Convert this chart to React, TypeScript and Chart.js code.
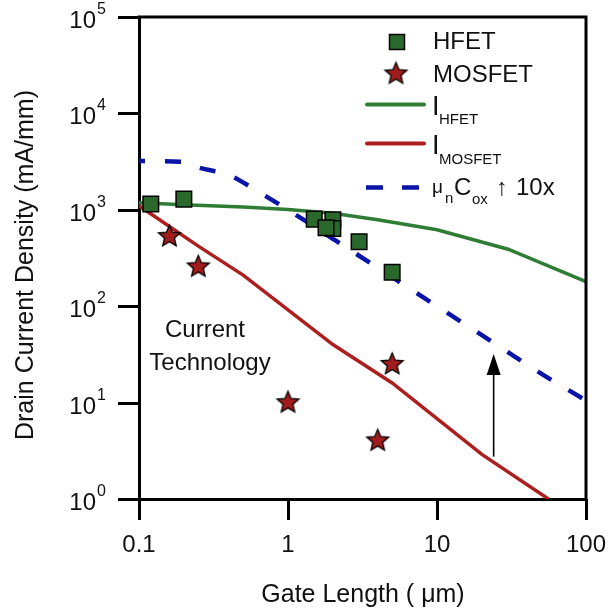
import { useEffect, useRef } from "react";
import { Chart, registerables } from "chart.js";

Chart.register(...registerables);

// Axis ticks
const xTicks = [0.1, 1, 10, 100];
const xTickLabels = ["0.1", "1", "10", "100"];
const yTicks = [1, 10, 100, 1000, 10000, 100000];
const yTickExponents = ["0", "1", "2", "3", "4", "5"];

// Measured devices: gate length (µm) vs drain current density (mA/mm)
const hfetLength = [0.12, 0.2, 1.5, 2.0, 2.0, 1.8, 3.0, 5.0];
const hfetCurrent = [1150, 1290, 800, 790, 640, 650, 467, 225];
const mosfetLength = [0.16, 0.25, 1.0, 5.0, 4.0];
const mosfetCurrent = [540, 262, 10.2, 25.5, 4.1];

// Model curves
const hfetModelLength = [0.1, 0.2, 0.5, 1, 2, 4, 10, 30, 100];
const hfetModelCurrent = [1180, 1130, 1070, 1010, 920, 790, 620, 390, 180];
const mosfetModelLength = [0.1, 0.25, 0.5, 2, 5, 20, 56];
const mosfetModelCurrent = [1100, 420, 210, 40, 16, 2.9, 1];
const scaledLength = [0.1, 0.2, 0.25, 0.4, 0.65, 1, 2, 5, 10, 20, 50, 100];
const scaledCurrent = [3200, 3150, 2750, 2300, 1500, 1000, 500, 200, 100, 50, 20, 10.5];

// Improvement arrow (from the MOSFET curve towards the scaled curve)
const arrowLength = [24, 24];
const arrowCurrent = [2.75, 32];

const FONT = '"Liberation Sans", Arial, Helvetica, sans-serif';
const GREEN_LINE = "#2f7d34";
const GREEN_FILL = "#2a682c";
const RED_LINE = "#ad1f1f";
const RED_FILL = "#a11c1c";
const BLUE = "#0a14a8";
const TICK_LEN = 21;

const pts = (xs: number[], ys: number[]) => xs.map((x, i) => ({ x, y: ys[i] }));

function makeStar(radius: number): HTMLCanvasElement {
  const size = Math.ceil(radius * 2 + 4);
  const c = document.createElement("canvas");
  c.width = size;
  c.height = size;
  const g = c.getContext("2d")!;
  const cx = size / 2;
  const cy = size / 2 + radius * 0.08;
  const inner = radius * 0.45;
  g.beginPath();
  for (let i = 0; i < 10; i++) {
    const r = i % 2 === 0 ? radius : inner;
    const ang = -Math.PI / 2 + (i * Math.PI) / 5;
    const px = cx + r * Math.cos(ang);
    const py = cy + r * Math.sin(ang);
    if (i === 0) g.moveTo(px, py);
    else g.lineTo(px, py);
  }
  g.closePath();
  g.fillStyle = RED_FILL;
  g.fill();
  g.lineWidth = 1.3;
  g.strokeStyle = "#000";
  g.lineJoin = "miter";
  g.stroke();
  return c;
}

function text(
  ctx: CanvasRenderingContext2D,
  s: string,
  x: number,
  y: number,
  size: number,
  align: CanvasTextAlign = "left"
) {
  ctx.font = `${size}px ${FONT}`;
  ctx.textAlign = align;
  ctx.textBaseline = "alphabetic";
  ctx.fillText(s, x, y);
}

export default function App() {
  const canvasRef = useRef<HTMLCanvasElement | null>(null);

  useEffect(() => {
    const canvas = canvasRef.current;
    if (!canvas) return;
    const star = makeStar(11.5);

    const decorations = {
      id: "decorations",
      afterDatasetsDraw(chart: any) {
        const { ctx, chartArea: a, scales } = chart;
        const xs = scales.x;
        const ys = scales.y;
        ctx.save();
        // improvement arrow
        const ax = xs.getPixelForValue(arrowLength[0]);
        const yb = ys.getPixelForValue(arrowCurrent[0]);
        const yt = ys.getPixelForValue(arrowCurrent[1]);
        ctx.strokeStyle = "#000";
        ctx.fillStyle = "#000";
        ctx.lineWidth = 1.6;
        ctx.beginPath();
        ctx.moveTo(ax, yb);
        ctx.lineTo(ax, yt + 18);
        ctx.stroke();
        ctx.beginPath();
        ctx.moveTo(ax, yt);
        ctx.lineTo(ax - 7, yt + 21);
        ctx.lineTo(ax + 7, yt + 21);
        ctx.closePath();
        ctx.fill();

        // top and right frame
        ctx.lineWidth = 3;
        ctx.lineCap = "square";
        ctx.beginPath();
        ctx.moveTo(a.left, a.top);
        ctx.lineTo(a.right, a.top);
        ctx.lineTo(a.right, a.bottom);
        ctx.stroke();

        // outward tick marks on both axes
        ctx.lineCap = "butt";
        ctx.beginPath();
        xTicks.forEach((v) => {
          const px = Math.round(xs.getPixelForValue(v)) + 0.5;
          ctx.moveTo(px, a.bottom);
          ctx.lineTo(px, a.bottom + TICK_LEN);
        });
        yTicks.forEach((v) => {
          const py = Math.round(ys.getPixelForValue(v)) + 0.5;
          ctx.moveTo(a.left, py);
          ctx.lineTo(a.left - TICK_LEN, py);
        });
        ctx.stroke();
        ctx.restore();
      },
      afterDraw(chart: any) {
        const { ctx, scales } = chart;
        const xs = scales.x;
        const ys = scales.y;
        ctx.save();
        ctx.fillStyle = "#111";

        // y tick labels: 10 with superscript exponent
        yTicks.forEach((v, i) => {
          const py = ys.getPixelForValue(v);
          text(ctx, "10", 96, py + 11, 24, "right");
          text(ctx, yTickExponents[i], 97, py - 3, 16, "left");
        });
        // x tick labels
        xTicks.forEach((v, i) => {
          const px = xs.getPixelForValue(v);
          text(ctx, xTickLabels[i], px, 552, 24, "center");
        });

        // axis titles
        text(ctx, "Gate Length ( \u03bcm)", 363, 602, 25, "center");
        ctx.save();
        ctx.translate(33, 265);
        ctx.rotate(-Math.PI / 2);
        text(ctx, "Drain Current Density (mA/mm)", 0, 0, 25, "center");
        ctx.restore();

        // annotation
        text(ctx, "Current", 205, 337, 24, "center");
        text(ctx, "Technology", 210, 370, 24, "center");

        // legend
        ctx.fillStyle = GREEN_FILL;
        ctx.strokeStyle = "#000";
        ctx.lineWidth = 1.5;
        ctx.fillRect(389.5, 34.5, 15, 15);
        ctx.strokeRect(389.5, 34.5, 15, 15);
        ctx.drawImage(star, 396 - star.width / 2, 73 - star.height / 2);

        ctx.lineCap = "round";
        ctx.lineWidth = 4;
        ctx.strokeStyle = GREEN_LINE;
        ctx.beginPath();
        ctx.moveTo(367, 104.5);
        ctx.lineTo(424, 104.5);
        ctx.stroke();
        ctx.strokeStyle = RED_LINE;
        ctx.beginPath();
        ctx.moveTo(367, 143.5);
        ctx.lineTo(424, 143.5);
        ctx.stroke();
        ctx.lineCap = "butt";
        ctx.lineWidth = 4.5;
        ctx.strokeStyle = BLUE;
        ctx.beginPath();
        ctx.moveTo(366, 187.5);
        ctx.lineTo(383, 187.5);
        ctx.moveTo(402, 187.5);
        ctx.lineTo(419, 187.5);
        ctx.stroke();

        ctx.fillStyle = "#111";
        text(ctx, "HFET", 433, 49, 24);
        text(ctx, "MOSFET", 433, 82, 24);
        text(ctx, "I", 432, 115, 27);
        text(ctx, "HFET", 439, 124, 15);
        text(ctx, "I", 432, 154, 27);
        text(ctx, "MOSFET", 439, 164, 15);
        text(ctx, "\u03bc", 432, 193, 19);
        text(ctx, "n", 445, 203, 15);
        text(ctx, "C", 454, 195, 24);
        text(ctx, "ox", 472, 204, 15);
        text(ctx, "\u2191", 502, 195, 24, "center");
        text(ctx, "10x", 516, 195, 24);
        ctx.restore();
      },
    };

    const axisCommon = {
      type: "logarithmic" as const,
      grid: { display: false, drawOnChartArea: false, drawTicks: false },
      border: { display: true, width: 3, color: "#000" },
      ticks: { display: false },
    };

    const chart = new Chart(canvas, {
      type: "scatter",
      data: {
        datasets: [
          {
            label: "HFET",
            data: pts(hfetLength, hfetCurrent),
            pointStyle: "rect",
            pointRadius: 11,
            backgroundColor: GREEN_FILL,
            borderColor: "#000",
            borderWidth: 1.5,
            showLine: false,
          },
          {
            label: "MOSFET",
            data: pts(mosfetLength, mosfetCurrent),
            pointStyle: star,
            pointRadius: 12,
            showLine: false,
          },
          {
            label: "I_HFET",
            data: pts(hfetModelLength, hfetModelCurrent),
            showLine: true,
            borderColor: GREEN_LINE,
            borderWidth: 3.5,
            pointRadius: 0,
            tension: 0,
          },
          {
            label: "I_MOSFET",
            data: pts(mosfetModelLength, mosfetModelCurrent),
            showLine: true,
            borderColor: RED_LINE,
            borderWidth: 3.5,
            pointRadius: 0,
            tension: 0,
          },
          {
            label: "\u03bcnCox \u2191 10x",
            data: pts(scaledLength, scaledCurrent),
            showLine: true,
            borderColor: BLUE,
            borderWidth: 4.5,
            borderDash: [16, 20],
            borderDashOffset: 10,
            pointRadius: 0,
            cubicInterpolationMode: "monotone",
          },
        ],
      } as any,
      options: {
        responsive: false,
        animation: false,
        devicePixelRatio: 1,
        layout: { padding: { left: 0, right: 24, top: 17, bottom: 0 } },
        plugins: {
          legend: { display: false },
          tooltip: { enabled: false },
        },
        scales: {
          x: {
            ...axisCommon,
            position: "bottom",
            min: 0.1,
            max: 100,
            afterBuildTicks: (s: any) => {
              s.ticks = xTicks.map((value) => ({ value }));
            },
            afterFit: (s: any) => {
              s.height = 114;
            },
          },
          y: {
            ...axisCommon,
            position: "left",
            min: 1,
            max: 100000,
            afterBuildTicks: (s: any) => {
              s.ticks = yTicks.map((value) => ({ value }));
            },
            afterFit: (s: any) => {
              s.width = 139;
            },
          },
        },
      } as any,
      plugins: [decorations],
    });

    return () => chart.destroy();
  }, []);

  return (
    <div style={{ position: "absolute", left: 0, top: 0, width: 610, height: 613, background: "#fff" }}>
      <canvas ref={canvasRef} width={610} height={613} style={{ display: "block" }} />
    </div>
  );
}
